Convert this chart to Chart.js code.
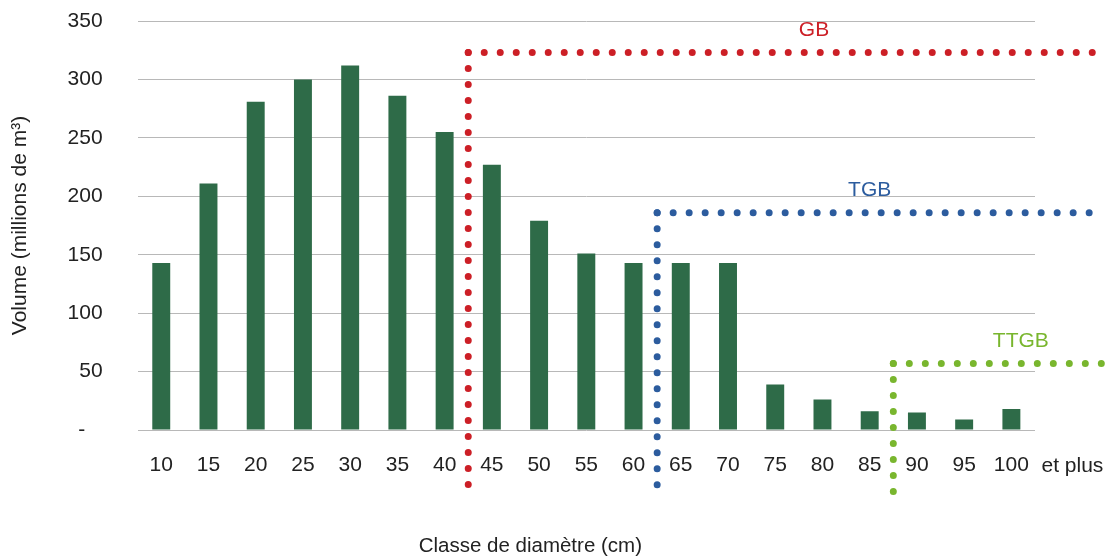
<!DOCTYPE html>
<html>
<head>
<meta charset="utf-8">
<script src="https://cdn.jsdelivr.net/npm/chart.js@4"></script>
<style>
  html, body { margin: 0; padding: 0; background: #fff; }
  #wrap { width: 1110px; height: 556px; }
</style>
</head>
<body>
<div id="wrap"><canvas id="chartMain"></canvas></div>
<script>
const classes = ['10', '15', '20', '25', '30', '35', '40', '45', '50', '55', '60', '65', '70', '75', '80', '85', '90', '95', '100'];
const volumes = [143, 211, 281, 300, 312, 286, 255, 227, 179, 151, 143, 143, 143, 39, 26, 16, 15, 9, 18];
const lastSuffix = 'et plus';
const xTitle = 'Classe de diamètre (cm)';

// zones gros bois: threshold diameter, dotted level, label position (diameter)
const zoneNames = ['GB', 'TGB', 'TTGB'];
const zoneFrom = [42.5, 62.5, 87.5];
const zoneLevels = [323, 186, 57];
const zoneLabelAt = [79.1, 85, 101];
const zoneColors = ['#cc1f26', '#2c5c9e', '#79b62e'];

const FONT = '"Liberation Sans", Arial, sans-serif';
const TXT = '#222';

Chart.defaults.font.family = FONT;
Chart.defaults.color = TXT;

const diamToIndex = d => (d - +classes[0]) / (+classes[1] - +classes[0]);

const zonesPlugin = {
    id: 'zones',
    afterDraw(chart) {
        const { ctx, scales: { x, y } } = chart;
        ctx.save();
        ctx.fillStyle = TXT;
        ctx.textAlign = 'center';
        ctx.textBaseline = 'middle';
        // "et plus" after last tick label
        ctx.font = '21px ' + FONT;
        ctx.fillText(lastSuffix, x.getPixelForValue(classes.length - 1) + 61, y.bottom + 36);
        // x axis title, a bit left of plot centre like the original
        ctx.font = '20.5px ' + FONT;
        ctx.fillText(xTitle, (x.left + x.right) / 2 - 56, chart.height - 10);

        zoneNames.forEach((name, i) => {
            const px = x.getPixelForValue(diamToIndex(zoneFrom[i]));
            const py = y.getPixelForValue(zoneLevels[i]);
            ctx.strokeStyle = zoneColors[i];
            ctx.lineWidth = 7;
            ctx.lineCap = 'round';
            ctx.setLineDash([0, 16]);
            ctx.beginPath();
            ctx.moveTo(px, py);
            ctx.lineTo(chart.width - 8, py);
            ctx.stroke();
            ctx.beginPath();
            ctx.moveTo(px, py);
            ctx.lineTo(px, y.bottom + 68);
            ctx.stroke();
            ctx.setLineDash([]);
            ctx.fillStyle = zoneColors[i];
            ctx.font = '21px ' + FONT;
            ctx.fillText(name, x.getPixelForValue(diamToIndex(zoneLabelAt[i])), py - 22);
        });
        ctx.restore();
    }
};

new Chart(document.getElementById('chartMain'), {
    type: 'bar',
    data: {
        labels: classes,
        datasets: [
            { label: 'Volume', data: volumes, backgroundColor: '#2e6b48', barPercentage: 0.38, categoryPercentage: 1 }
        ]
    },
    options: {
        responsive: true, maintainAspectRatio: false, animation: false,
        layout: { padding: { top: 21, right: 75, left: 0, bottom: 54.8 } },
        plugins: { legend: { display: false }, tooltip: { enabled: false } },
        scales: {
            x: {
                grid: { display: false, drawTicks: false }, border: { display: false },
                ticks: { font: { size: 21 }, color: TXT, padding: 23, maxRotation: 0, autoSkip: false },
                title: { display: false }
            },
            y: {
                min: 0, max: 350,
                border: { display: false },
                grid: { color: '#b8b8b8', drawTicks: false },
                ticks: { stepSize: 50, font: { size: 21 }, color: TXT, padding: 35, callback: v => v === 0 ? '-   ' : v },
                title: { display: true, text: 'Volume (millions de m³)', font: { size: 21 }, color: TXT, padding: { top: 7.4, bottom: 0 } },
                afterFit: s => { s.paddingTop = 0; s.paddingBottom = 0; }
            }
        }
    },
    plugins: [zonesPlugin]
});
</script>
</body>
</html>
